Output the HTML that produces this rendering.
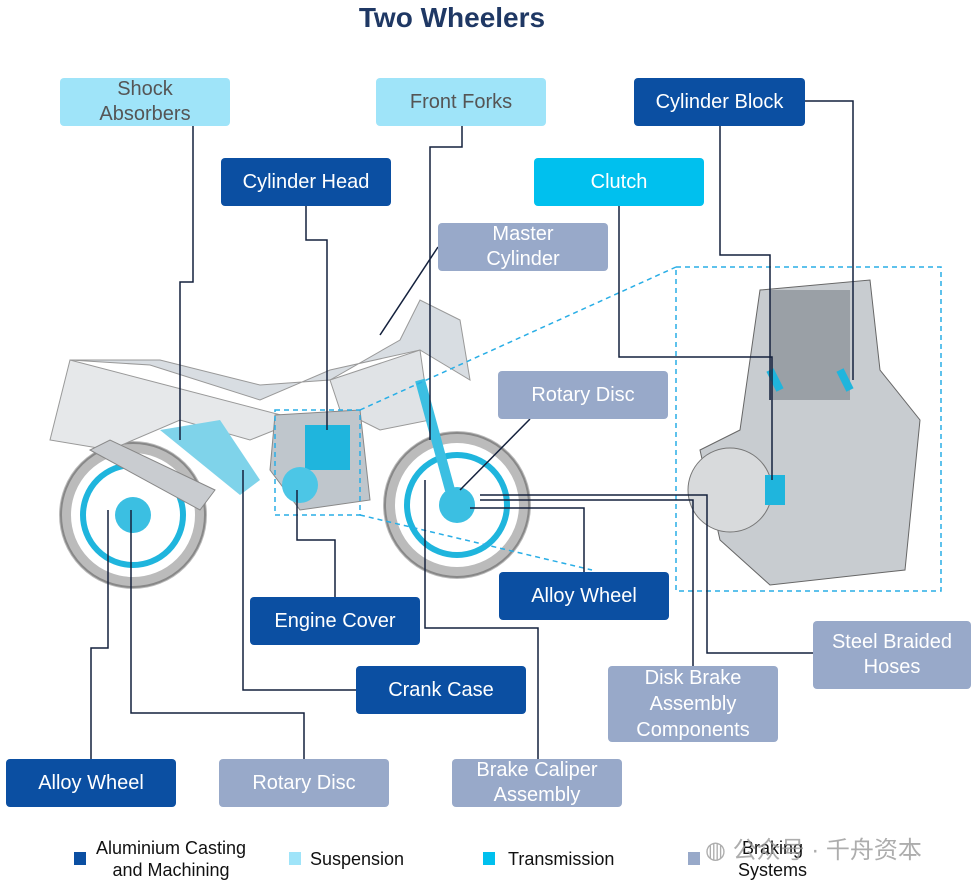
<!DOCTYPE html>
<html><head><meta charset="utf-8"><style>
body{margin:0;width:978px;height:889px;background:#fff;position:relative;overflow:hidden;font-family:"Liberation Sans","Noto Sans CJK SC",sans-serif}
.b{position:absolute;border-radius:4px;display:flex;align-items:center;justify-content:center;text-align:center;font-size:20px;line-height:25px;color:#fff}
.d{background:#0b4fa2}.l{background:#9fe4f9;color:#555}.c{background:#00c0ee}.g{background:#98a9c9}
.lg{position:absolute;font-size:18px;line-height:22px;color:#111}
.sq{position:absolute;width:12px;height:13px}
</style></head><body>
<div style="position:absolute;left:0;width:904px;top:2px;text-align:center;font-size:28px;font-weight:bold;color:#1f3864">Two Wheelers</div>
<svg width="978" height="889" style="position:absolute;left:0;top:0">
<g fill="none">
<circle cx="133" cy="515" r="68" stroke="#bbb" stroke-width="12"/>
<circle cx="133" cy="515" r="72" stroke="#888" stroke-width="2"/>
<circle cx="133" cy="515" r="50" stroke="#1fb5dd" stroke-width="6"/>
<circle cx="457" cy="505" r="68" stroke="#bbb" stroke-width="12"/>
<circle cx="457" cy="505" r="72" stroke="#888" stroke-width="2"/>
<circle cx="457" cy="505" r="50" stroke="#1fb5dd" stroke-width="6"/>
</g>
<circle cx="133" cy="515" r="18" fill="#3bbfe2"/>
<circle cx="457" cy="505" r="18" fill="#3bbfe2"/>
<path d="M70 360 L150 365 L260 400 L330 370 L420 350 L470 380 L460 320 L420 300 L400 340 L330 380 L260 385 L160 360 Z" fill="#d8dde2" stroke="#999"/>
<path d="M70 360 L50 440 L110 450 L180 420 L250 440 L300 420 Z" fill="#e6e8ea" stroke="#999"/>
<path d="M330 380 L420 350 L430 420 L380 430 L340 410 Z" fill="#e0e3e6" stroke="#999"/>
<path d="M90 450 L200 510 L215 490 L110 440 Z" fill="#c9ccd0" stroke="#888"/>
<path d="M275 415 L360 410 L370 500 L300 510 L270 470 Z" fill="#bfc6cc" stroke="#888"/>
<rect x="305" y="425" width="45" height="45" fill="#1fb5dd"/>
<circle cx="300" cy="485" r="18" fill="#4cc6e6"/>
<path d="M160 430 L220 420 L260 480 L240 495 Z" fill="#7fd3ea"/>
<line x1="420" y1="380" x2="450" y2="490" stroke="#3bbfe2" stroke-width="10"/>
<path d="M700 450 L740 430 L760 290 L870 280 L880 370 L920 420 L905 570 L770 585 L720 540 Z" fill="#c8ccd0" stroke="#666"/>
<rect x="770" y="290" width="80" height="110" fill="#9aa0a6"/>
<circle cx="730" cy="490" r="42" fill="#d8dadc" stroke="#777"/>
<rect x="765" y="475" width="20" height="30" fill="#1fb5dd"/>
<path d="M770 370 L780 390 M840 370 L850 390" stroke="#1fb5dd" stroke-width="8"/>
<g stroke="#29aee6" stroke-width="1.5" stroke-dasharray="5,4" fill="none">
<rect x="676" y="267" width="265" height="324"/>
<rect x="275" y="410" width="85" height="105"/>
<line x1="360" y1="410" x2="676" y2="267"/><line x1="360" y1="515" x2="592" y2="570"/>
</g>
<g stroke="#14213d" stroke-width="1.5" fill="none">
<polyline points="193,126 193,282 180,282 180,440"/>
<polyline points="462,126 462,147 430,147 430,440"/>
<polyline points="306,206 306,240 327,240 327,430"/>
<polyline points="805,101 853,101 853,380"/>
<polyline points="720,126 720,255 770,255 770,400"/>
<polyline points="619,206 619,357 772,357 772,480"/>
<polyline points="438,247 380,335"/>
<polyline points="530,419 460,490"/>
<polyline points="584,572 584,508 470,508"/>
<polyline points="335,597 335,540 297,540 297,490"/>
<polyline points="356,690 243,690 243,470"/>
<polyline points="813,653 707,653 707,495 480,495"/>
<polyline points="693,666 693,500 480,500"/>
<polyline points="538,759 538,628 425,628 425,480"/>
<polyline points="91,759 91,648 108,648 108,510"/>
<polyline points="304,759 304,713 131,713 131,510"/>
</g>
</svg>
<div class="b l" style="left:60px;top:78px;width:170px;height:48px">Shock<br>Absorbers</div>
<div class="b l" style="left:376px;top:78px;width:170px;height:48px">Front Forks</div>
<div class="b d" style="left:634px;top:78px;width:171px;height:48px">Cylinder Block</div>
<div class="b d" style="left:221px;top:158px;width:170px;height:48px">Cylinder Head</div>
<div class="b c" style="left:534px;top:158px;width:170px;height:48px">Clutch</div>
<div class="b g" style="left:438px;top:223px;width:170px;height:48px">Master<br>Cylinder</div>
<div class="b g" style="left:498px;top:371px;width:170px;height:48px">Rotary Disc</div>
<div class="b d" style="left:499px;top:572px;width:170px;height:48px">Alloy Wheel</div>
<div class="b d" style="left:250px;top:597px;width:170px;height:48px">Engine Cover</div>
<div class="b g" style="left:813px;top:621px;width:158px;height:68px">Steel Braided<br>Hoses</div>
<div class="b d" style="left:356px;top:666px;width:170px;height:48px">Crank Case</div>
<div class="b g" style="left:608px;top:666px;width:170px;height:76px;line-height:26px">Disk Brake<br>Assembly<br>Components</div>
<div class="b d" style="left:6px;top:759px;width:170px;height:48px">Alloy Wheel</div>
<div class="b g" style="left:219px;top:759px;width:170px;height:48px">Rotary Disc</div>
<div class="b g" style="left:452px;top:759px;width:170px;height:48px">Brake Caliper<br>Assembly</div>
<div class="sq" style="left:74px;top:852px;background:#0b4fa2"></div>
<div class="lg" style="left:96px;top:837px;text-align:center">Aluminium Casting<br>and Machining</div>
<div class="sq" style="left:289px;top:852px;background:#9fe4f9"></div>
<div class="lg" style="left:310px;top:848px">Suspension</div>
<div class="sq" style="left:483px;top:852px;background:#00c0ee"></div>
<div class="lg" style="left:508px;top:848px">Transmission</div>
<div class="sq" style="left:688px;top:852px;background:#98a9c9"></div>
<div class="lg" style="left:738px;top:837px;text-align:center">Braking<br>Systems</div>
<div class="lg" style="left:705px;top:836px;font-size:24px;line-height:30px;color:#999;opacity:.8">◍ 公众号 · 千舟资本</div>
</body></html>
